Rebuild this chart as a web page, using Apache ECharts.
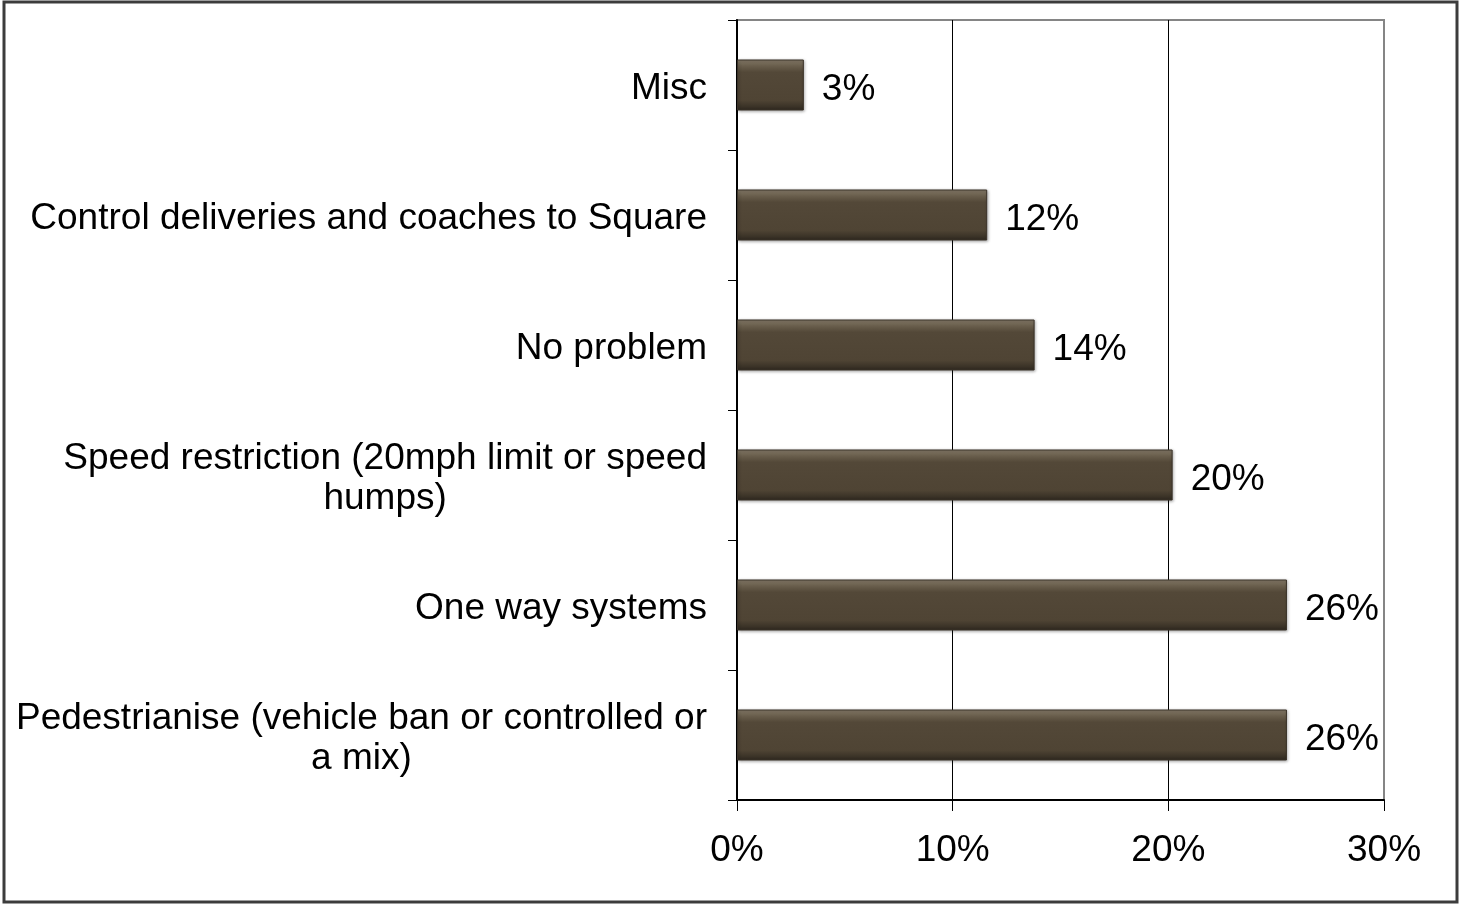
<!DOCTYPE html>
<html>
<head>
<meta charset="utf-8">
<title>Traffic options</title>
<script src="https://cdn.jsdelivr.net/npm/echarts@6/dist/echarts.min.js"></script>
<style>
    html, body { margin: 0; padding: 0; background: #fff; }
    #main { width: 1461px; height: 907px; }
</style>
</head>
<body>
<div id="main"></div>
<script>
// categories, top to bottom
var categories = [
    'Misc',
    'Control deliveries and coaches to Square',
    'No problem',
    'Speed restriction (20mph limit or speed\nhumps)',
    'One way systems',
    'Pedestrianise (vehicle ban or controlled or\na mix)'
];
// percent values
var values = [3.1, 11.6, 13.8, 20.2, 25.5, 25.5];
var axisTicks = [0, 10, 20, 30];

var font = '"Liberation Sans", Arial, sans-serif';

var chart = echarts.init(document.getElementById('main'));

var option = {
    animation: false,
    backgroundColor: '#fff',
    grid: {
        show: true,
        left: 737,
        right: 77,
        top: 20,
        bottom: 107,
        borderColor: '#858585',
        borderWidth: 2
    },
    graphic: [{
        type: 'rect',
        shape: { x: 4, y: 2, width: 1453, height: 900 },
        style: { fill: 'none', stroke: '#3c3c3c', lineWidth: 3 },
        silent: true
    }],
    xAxis: {
        type: 'value',
        min: axisTicks[0],
        max: axisTicks[axisTicks.length - 1],
        interval: 10,
        axisLine: { show: true, lineStyle: { color: '#000', width: 2 } },
        axisTick: { show: true, length: 11, lineStyle: { color: '#000', width: 1 } },
        splitLine: {
            show: true,
            lineStyle: { color: ['#000', '#000', '#000', '#858585'], width: 1 }
        },
        axisLabel: {
            margin: 32,
            fontSize: 37,
            fontFamily: font,
            color: '#000',
            formatter: '{value}%'
        }
    },
    yAxis: {
        type: 'category',
        inverse: true,
        data: categories,
        axisLine: { show: true, lineStyle: { color: '#000', width: 2 } },
        axisTick: { show: true, length: 9, lineStyle: { color: '#000' } },
        axisLabel: {
            margin: 30,
            color: '#000',
            formatter: function (v) {
                return v.split('\n').map(function (s) { return '{c|' + s + '}'; }).join('\n');
            },
            rich: {
                c: {
                    align: 'center',
                    fontSize: 37,
                    fontFamily: font,
                    color: '#000',
                    lineHeight: 40,
                    padding: [8, 0, 0, 0]
                }
            }
        }
    },
    series: [{
        type: 'bar',
        data: values,
        barWidth: 51,
        itemStyle: {
            color: new echarts.graphic.LinearGradient(0, 0, 0, 1, [
                { offset: 0, color: '#8a806e' },
                { offset: 0.12, color: '#6a5f4d' },
                { offset: 0.25, color: '#534838' },
                { offset: 0.8, color: '#4f4434' },
                { offset: 1, color: '#2e281f' }
            ]),
            borderColor: '#3a3228',
            borderWidth: 1,
            shadowColor: 'rgba(0,0,0,0.35)',
            shadowBlur: 3,
            shadowOffsetX: 1,
            shadowOffsetY: 1
        },
        label: {
            show: true,
            position: 'right',
            distance: 18,
            offset: [0, 5],
            fontSize: 37,
            fontFamily: font,
            color: '#000',
            formatter: function (p) { return Math.round(p.value) + '%'; }
        }
    }]
};

chart.setOption(option);
</script>
</body>
</html>
